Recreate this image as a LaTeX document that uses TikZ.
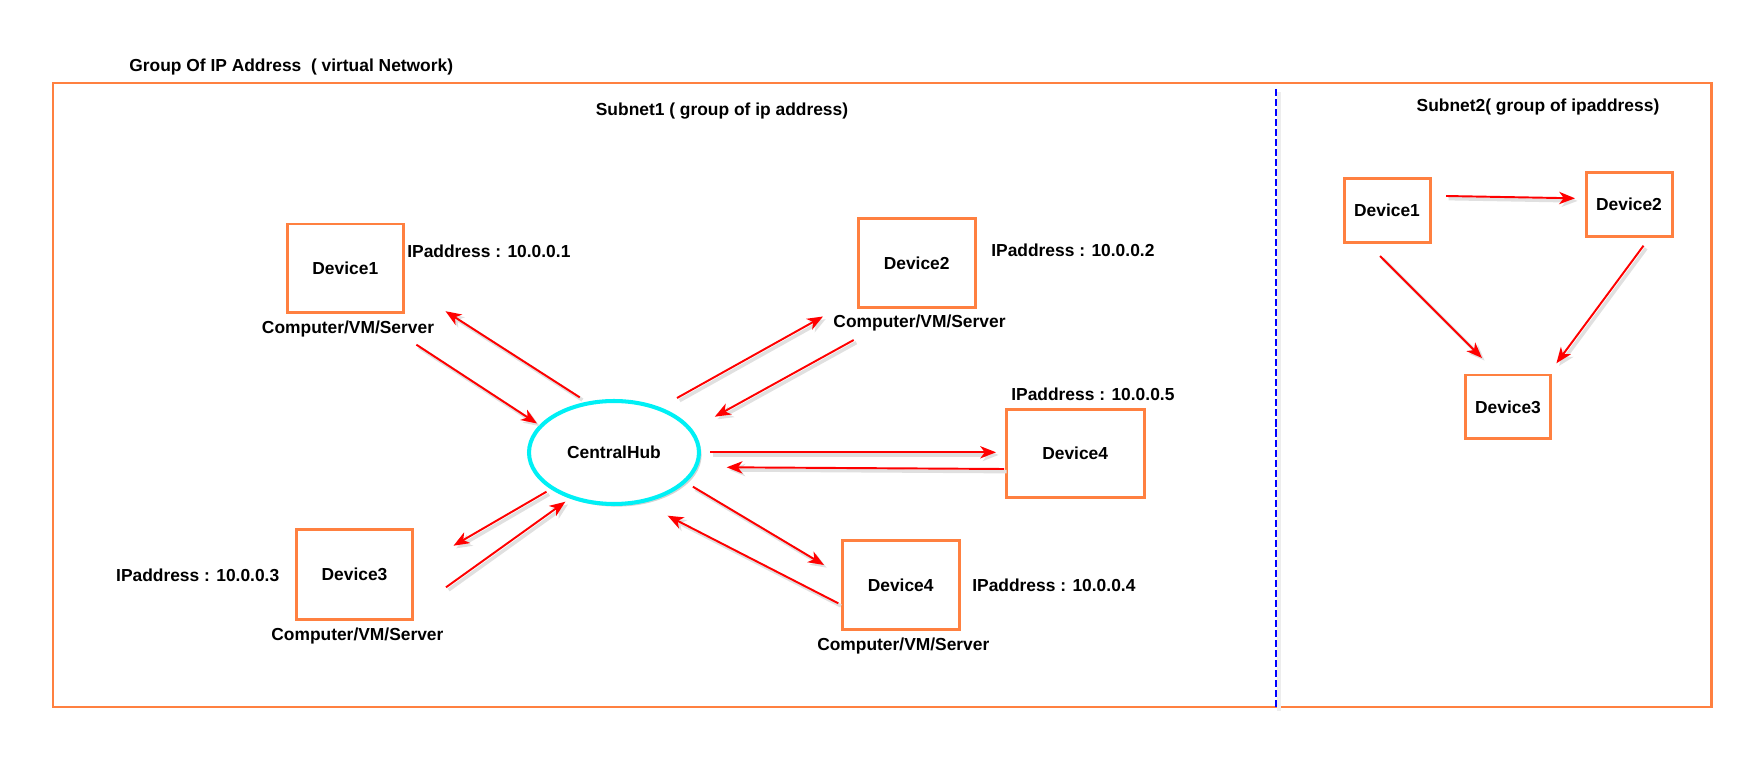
\documentclass[tikz,border=0pt]{standalone}
\usepackage{fontspec}
\setmainfont{Liberation Sans}
\usetikzlibrary{arrows.meta}
\usetikzlibrary{shapes.geometric}
\usetikzlibrary{shadows}
\definecolor{boxorange}{RGB}{255,128,64}
\definecolor{linkred}{RGB}{255,0,0}
\definecolor{hubcyan}{RGB}{0,240,245}
\begin{document}
\begin{tikzpicture}[x=0.02cm,y=-0.02cm,
  every node/.style={font=\bfseries\fontsize{9.9}{12}\selectfont},
  device/.style={draw=boxorange,line width=1.7pt,fill=white,minimum width=2.31cm,minimum height=1.78cm,inner sep=0pt},
  smalldev/.style={device,minimum width=1.72cm,minimum height=1.29cm},
  txt/.style={inner sep=0pt},
  link/.style={draw=linkred,line width=1.1pt,-{Stealth[length=9pt,width=7pt,inset=2.6pt]},
    preaction={draw=black!12,line width=2pt,transform canvas={shift={(1.5pt,-1.5pt)}}}}]
\useasboundingbox (0,0) rectangle (1755,783);
% frame of the virtual network
\draw[boxorange,line width=1.7pt] (53,83) rectangle (1711,707);
\draw[black!7,line width=2pt] (1279,92) -- (1279,711);
\draw[blue,line width=1.1pt,dash pattern=on 4pt off 1.7pt] (1276,89) -- (1276,709);
\node[txt,anchor=west] (title) at (129,67) {Group Of IP Address\ \ ( virtual Network)};
\node[txt] (sub1) at (722,111) {Subnet1 ( group of ip address)};
\node[txt] (sub2) at (1538,107) {Subnet2( group of ipaddress)};
% subnet1
\node[draw=hubcyan,line width=2.3pt,ellipse,fill=white,minimum width=3.4cm,minimum height=2.06cm,
  drop shadow={opacity=0.35,shadow xshift=1.5pt,shadow yshift=-1.5pt}] (hub) at (614,452.5) {CentralHub};
\node[device] (d1) at (345.3,268.5) {Device1};
\node[device,minimum width=2.34cm] (d2) at (916.7,262.8) {Device2};
\node[device,minimum width=2.76cm,minimum height=1.76cm] (d5) at (1075.2,453.3) {Device4};
\node[device,minimum width=2.34cm] (d4) at (900.7,584.8) {Device4};
\node[device,minimum height=1.79cm] (d3) at (354.5,574.7) {Device3};
\node[txt,anchor=west] (ip1) at (407,251) {IPaddress : 10.0.0.1};
\node[txt,anchor=west] (ip2) at (991,250.7) {IPaddress : 10.0.0.2};
\node[txt,anchor=west] (ip5) at (1011,394) {IPaddress : 10.0.0.5};
\node[txt,anchor=west] (ip4) at (972,585.7) {IPaddress : 10.0.0.4};
\node[txt,anchor=east] (ip3) at (279.6,575) {IPaddress : 10.0.0.3};
\node[txt] (cvs1) at (348,329.3) {Computer/VM/Server};
\node[txt] (cvs2) at (919.5,323.3) {Computer/VM/Server};
\node[txt] (cvs4) at (903.3,645.7) {Computer/VM/Server};
\node[txt] (cvs3) at (357.4,635.7) {Computer/VM/Server};
% subnet2
\node[smalldev] (e1) at (1387,210.4) {Device1};
\node[smalldev] (e2) at (1629,204.5) {Device2};
\node[smalldev,minimum width=1.69cm,minimum height=1.28cm] (e3) at (1508,407) {Device3};
% arrow ends
\coordinate (h1a) at (579.8,397.4); \coordinate (h1b) at (445.5,311.2);
\coordinate (d1a) at (416.4,344.7); \coordinate (d1b) at (537,423.5);
\coordinate (h2a) at (677,398);     \coordinate (h2b) at (823,316.5);
\coordinate (d2a) at (853.7,340);   \coordinate (d2b) at (714.8,416.7);
\coordinate (h5a) at (710,452.3);   \coordinate (h5b) at (996,452.3);
\coordinate (d5a) at (1004,469);    \coordinate (d5b) at (726.7,467.3);
\coordinate (h4a) at (692.9,486.7); \coordinate (h4b) at (824,565);
\coordinate (d4a) at (838.3,603.3); \coordinate (d4b) at (667.6,515.7);
\coordinate (h3a) at (546.5,491.7); \coordinate (h3b) at (453.5,545.7);
\coordinate (d3a) at (446,587.3);   \coordinate (d3b) at (565.4,501.7);
\coordinate (e12a) at (1446,196);   \coordinate (e12b) at (1575,198.3);
\coordinate (e13a) at (1380,256);   \coordinate (e13b) at (1482,358);
\coordinate (e23a) at (1643.5,245.7); \coordinate (e23b) at (1556.4,363.3);
\draw[link] (h1a) -- (h1b);
\draw[link] (d1a) -- (d1b);
\draw[link] (h2a) -- (h2b);
\draw[link] (d2a) -- (d2b);
\draw[link] (h5a) -- (h5b);
\draw[link] (d5a) -- (d5b);
\draw[link] (h4a) -- (h4b);
\draw[link] (d4a) -- (d4b);
\draw[link] (h3a) -- (h3b);
\draw[link] (d3a) -- (d3b);
\draw[link] (e12a) -- (e12b);
\draw[link] (e13a) -- (e13b);
\draw[link] (e23a) -- (e23b);
\end{tikzpicture}
\end{document}
